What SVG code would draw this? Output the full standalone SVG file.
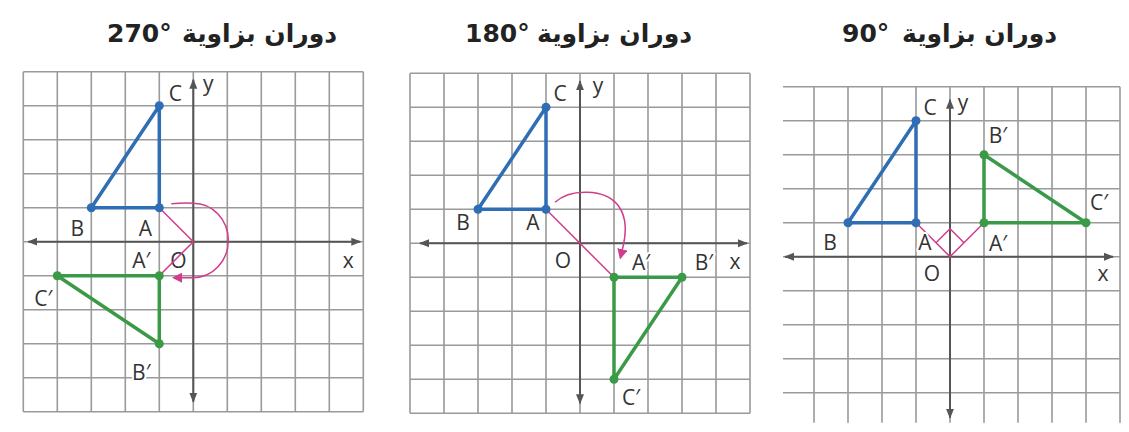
<svg xmlns="http://www.w3.org/2000/svg" xmlns:xlink="http://www.w3.org/1999/xlink" width="1129" height="432" viewBox="0 0 1129 432">
<style>
.grid{fill:none;stroke:#9a9a9a;stroke-width:1.6}
.axis{fill:none;stroke:#555;stroke-width:2;marker-start:url(#ax);marker-end:url(#ax)}
.blue{fill:none;stroke:#2f6db5;stroke-width:3.5;stroke-linejoin:round}
.green{fill:none;stroke:#3a9a48;stroke-width:3.5;stroke-linejoin:round}
.bd{fill:#2f6db5}
.gd{fill:#3a9a48}
.pink{fill:none;stroke:#d23c8c;stroke-width:1.5}
.lbl{font-family:"Open Sans","Liberation Sans",sans-serif;font-size:21px;fill:#333;text-anchor:middle;paint-order:stroke;stroke:#fff;stroke-width:4px;stroke-linejoin:round}
.nohalo{stroke:none}
.title{font-family:"DejaVu Sans",sans-serif;font-weight:bold;font-size:25px;fill:#222}
.tn{text-anchor:start}
.ta{text-anchor:end}
</style>
<defs>
<marker id="ax" viewBox="0 0 10 10" refX="9" refY="5" markerWidth="5" markerHeight="5" orient="auto-start-reverse" markerUnits="strokeWidth">
<path d="M0,1 L10,5 L0,9 Z" fill="#555"/>
</marker>
<marker id="pa" viewBox="0 0 10 10" refX="2" refY="5" markerWidth="7" markerHeight="7" orient="auto" markerUnits="strokeWidth">
<path d="M0,0 L10,5 L0,10 Z" fill="#d23c8c"/>
</marker>
<path id="grid10" class="grid" d="M-170,-170V170M-136,-170V170M-102,-170V170M-68,-170V170M-34,-170V170M0,-170V170M34,-170V170M68,-170V170M102,-170V170M136,-170V170M170,-170V170M-170,-170H170M-170,-136H170M-170,-102H170M-170,-68H170M-170,-34H170M-170,0H170M-170,34H170M-170,68H170M-170,102H170M-170,136H170M-170,170H170"/>
</defs>
<rect width="1129" height="432" fill="#fff"/>

<g id="titles">
<g id="title270"><text class="title tn" x="107" y="42">270°</text><text class="title ta" x="337" y="42">دوران بزاوية</text></g>
<g id="title180"><text class="title tn" x="465" y="42">180°</text><text class="title ta" x="692" y="42">دوران بزاوية</text></g>
<g id="title90"><text class="title tn" x="842" y="42">90°</text><text class="title ta" x="1057" y="42">دوران بزاوية</text></g>
</g>

<g id="panel270" transform="translate(193.3,241.7)">
<use xlink:href="#grid10"/>
<g id="axes270"><path class="axis" d="M-165,0H167"/><path class="axis" d="M0,160V-162"/></g>
<g id="labels270">
<text class="lbl" x="-18" y="-141">C</text>
<text class="lbl" x="15" y="-151">y</text>
<text class="lbl" x="-116" y="-6">B</text>
<text class="lbl" x="-48" y="-6">A</text>
<text class="lbl" x="-52" y="26">A′</text>
<text class="lbl nohalo" x="-15" y="26">O</text>
<text class="lbl" x="155" y="26">x</text>
<text class="lbl" x="-150" y="64">C′</text>
<text class="lbl" x="-52" y="138">B′</text>
</g>
<g id="connectors270">
<path class="pink" d="M-34,-34L0,0L-34,34"/>
<path class="pink" d="M-22,-38C-12,-39 -6,-39 0,-38.5A35,37.25 0 0 1 0,36L-13,36" marker-end="url(#pa)"/>
</g>
<g id="tri270-ABC"><path class="blue" d="M-34,-34L-102,-34L-34,-136Z"/><circle class="bd" cx="-34" cy="-34" r="4.5"/><circle class="bd" cx="-102" cy="-34" r="4.5"/><circle class="bd" cx="-34" cy="-136" r="4.5"/></g>
<g id="tri270-A1B1C1"><path class="green" d="M-34,34L-136,34L-34,102Z"/><circle class="gd" cx="-34" cy="34" r="4.5"/><circle class="gd" cx="-136" cy="34" r="4.5"/><circle class="gd" cx="-34" cy="102" r="4.5"/></g>
</g>

<g id="panel180" transform="translate(580,243.3)">
<use xlink:href="#grid10"/>
<g id="axes180"><path class="axis" d="M-160,0H167"/><path class="axis" d="M0,160V-162"/></g>
<g id="connectors180">
<path class="pink" d="M-34,-34L34,34"/>
<path class="pink" d="M-25,-41C-10,-55 25,-55 38,-38C48,-25 46,-8 42,8" marker-end="url(#pa)"/>
</g>
<g id="tri180-ABC"><path class="blue" d="M-34,-34L-102,-34L-34,-136Z"/><circle class="bd" cx="-34" cy="-34" r="4.5"/><circle class="bd" cx="-102" cy="-34" r="4.5"/><circle class="bd" cx="-34" cy="-136" r="4.5"/></g>
<g id="tri180-A1B1C1"><path class="green" d="M34,34L102,34L34,136Z"/><circle class="gd" cx="34" cy="34" r="4.5"/><circle class="gd" cx="102" cy="34" r="4.5"/><circle class="gd" cx="34" cy="136" r="4.5"/></g>
<g id="labels180">
<text class="lbl" x="-20" y="-142">C</text>
<text class="lbl" x="18" y="-150">y</text>
<text class="lbl" x="-117" y="-13">B</text>
<text class="lbl" x="-47" y="-13">A</text>
<text class="lbl" x="-17" y="25">O</text>
<text class="lbl" x="61" y="27">A′</text>
<text class="lbl" x="124" y="27">B′</text>
<text class="lbl" x="155" y="26">x</text>
<text class="lbl" x="51" y="162">C′</text>
</g>
</g>

<g id="panel90" transform="translate(950,256.7)">
<path class="grid" d="M-136,-170V166M-102,-170V166M-68,-170V166M-34,-170V166M0,-170V166M34,-170V166M68,-170V166M102,-170V166M136,-170V166M170,-170V166M-167,-170H170M-167,-136H170M-167,-102H170M-167,-68H170M-167,-34H170M-167,0H170M-167,34H170M-167,68H170M-167,102H170M-167,136H170"/>
<g id="axes90"><path class="axis" d="M-165,0H163"/><path class="axis" d="M0,161V-157"/></g>
<g id="connectors90">
<path class="pink" d="M-34,-34L0,0L34,-34"/>
<path class="pink" d="M-14,-14L0,-28L14,-14"/>
</g>
<g id="tri90-ABC"><path class="blue" d="M-34,-34L-102,-34L-34,-136Z"/><circle class="bd" cx="-34" cy="-34" r="4.5"/><circle class="bd" cx="-102" cy="-34" r="4.5"/><circle class="bd" cx="-34" cy="-136" r="4.5"/></g>
<g id="tri90-A1B1C1"><path class="green" d="M34,-34L34,-102L136,-34Z"/><circle class="gd" cx="34" cy="-34" r="4.5"/><circle class="gd" cx="34" cy="-102" r="4.5"/><circle class="gd" cx="136" cy="-34" r="4.5"/></g>
<g id="labels90">
<text class="lbl" x="-20" y="-142">C</text>
<text class="lbl" x="13" y="-147">y</text>
<text class="lbl" x="48" y="-114">B′</text>
<text class="lbl" x="149" y="-47">C′</text>
<text class="lbl" x="-120" y="-7">B</text>
<text class="lbl" x="-25" y="-7">A</text>
<text class="lbl" x="48" y="-6">A′</text>
<text class="lbl" x="-18" y="24">O</text>
<text class="lbl" x="153" y="24">x</text>
</g>
</g>
</svg>
